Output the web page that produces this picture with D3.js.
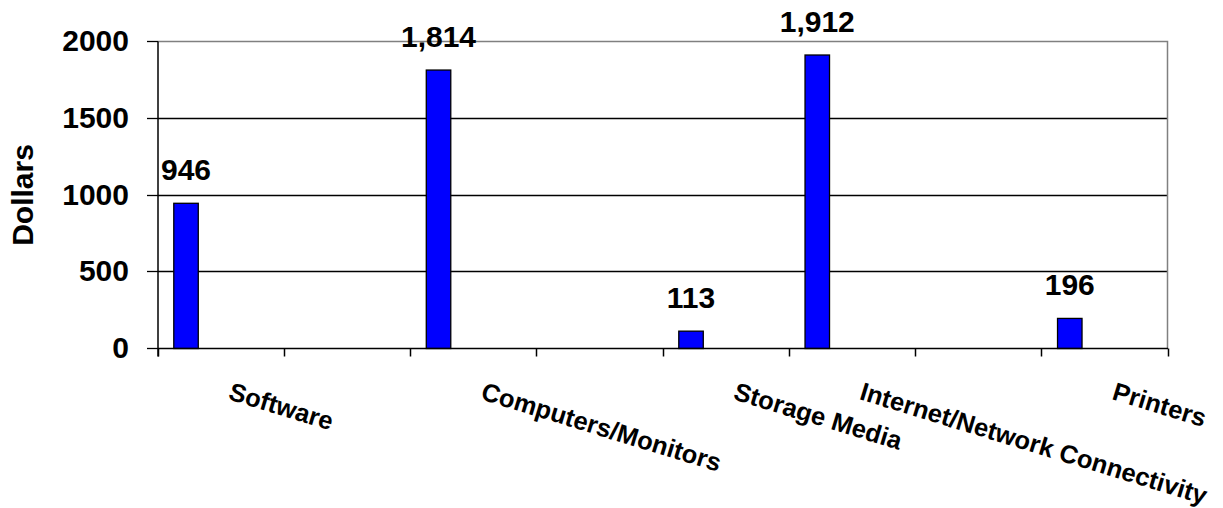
<!DOCTYPE html>
<html>
<head>
<meta charset="utf-8">
<script src="https://cdn.jsdelivr.net/npm/d3@7"></script>
<style>
  html, body { margin: 0; padding: 0; background: #fff; }
  svg { display: block; }
  text { font-family: Arial, "Liberation Sans", sans-serif; font-weight: bold; fill: #000; }
</style>
</head>
<body>
<svg id="chart" width="1223" height="508"></svg>
<script>
// ---- data ----
const categories = ["Software", "", "Computers/Monitors", "", "Storage Media", "Internet/Network Connectivity", "", "Printers"];
const values = [946, null, 1814, null, 113, 1912, null, 196];
const dataLabels = ["946", "", "1,814", "", "113", "1,912", "", "196"];
const yTicks = [0, 500, 1000, 1500, 2000];
const yTitle = "Dollars";

// ---- layout ----
const W = 1223, H = 508;
const plot = { left: 158, right: 1168, top: 41.5, bottom: 348.5 };

const svg = d3.select("#chart");
svg.append("rect").attr("width", W).attr("height", H).attr("fill", "#fff");

const keys = categories.map((c, i) => i);
const x = d3.scaleBand().domain(keys).range([plot.left, plot.right]).paddingInner(0).paddingOuter(0);
const y = d3.scaleLinear().domain([0, 2000]).range([plot.bottom, plot.top]);
const bw = x.bandwidth();
const crisp = v => Math.round(v - 0.5) + 0.5;

// gridlines
svg.append("g").selectAll("line").data(yTicks.filter(t => t > 0 && t < 2000)).join("line")
  .attr("x1", plot.left).attr("x2", plot.right)
  .attr("y1", d => crisp(y(d))).attr("y2", d => crisp(y(d)))
  .attr("stroke", "#000").attr("stroke-width", 1.3);

// plot border top & right (gray)
svg.append("path")
  .attr("d", `M${plot.left},${y(2000)}H${plot.right - 0.5}V${plot.bottom}`)
  .attr("fill", "none").attr("stroke", "#808080").attr("stroke-width", 1.5);

// bars
const barOffset = bw * 0.125, barWidth = bw * 0.194;
const barData = keys.filter(i => values[i] != null);
svg.append("g").selectAll("rect").data(barData).join("rect")
  .attr("x", i => x(i) + barOffset)
  .attr("width", barWidth)
  .attr("y", i => y(values[i]))
  .attr("height", i => y(0) - y(values[i]))
  .attr("fill", "#0000FF").attr("stroke", "#000").attr("stroke-width", 1.3);

// data labels
svg.append("g").selectAll("text").data(barData).join("text")
  .attr("x", i => x(i) + barOffset + barWidth / 2)
  .attr("y", i => y(values[i]) - 23)
  .attr("text-anchor", "middle")
  .style("font-size", "30px")
  .text(i => dataLabels[i]);

// y axis
const yAxis = d3.axisLeft(y).tickValues(yTicks).tickSize(11).tickPadding(18).tickFormat(d3.format("d"));
const gy = svg.append("g").attr("transform", `translate(${plot.left},0)`).call(yAxis);
gy.select(".domain").remove();
gy.selectAll(".tick").attr("transform", d => `translate(0,${crisp(y(d))})`);
gy.selectAll(".tick line").attr("stroke", "#000").attr("stroke-width", 1.3);
gy.selectAll(".tick text").style("font-size", "30px").style("font-family", "Arial, 'Liberation Sans', sans-serif").style("font-weight", "bold").attr("fill", "#000");
svg.append("line").attr("x1", plot.left).attr("x2", plot.left).attr("y1", y(2000)).attr("y2", plot.bottom + 8)
  .attr("stroke", "#000").attr("stroke-width", 1.5);

// x axis
svg.append("line").attr("x1", plot.left).attr("x2", plot.right).attr("y1", plot.bottom).attr("y2", plot.bottom)
  .attr("stroke", "#000").attr("stroke-width", 1.5);
const boundaries = keys.map(i => x(i)).concat([x.range()[1]]);
svg.append("g").selectAll("line").data(boundaries).join("line")
  .attr("x1", d => crisp(d)).attr("x2", d => crisp(d))
  .attr("y1", plot.bottom).attr("y2", plot.bottom + 8)
  .attr("stroke", "#000").attr("stroke-width", 1.5);

// category labels (rotated)
svg.append("g").selectAll("text").data(keys.filter(i => categories[i])).join("text")
  .attr("transform", i => `translate(${x(i) + bw / 2 + 6},399) rotate(17)`)
  .attr("text-anchor", "start")
  .style("font-size", "25.5px")
  .text(i => categories[i]);

// y title
svg.append("text")
  .attr("transform", `translate(33,${(plot.top + plot.bottom) / 2}) rotate(-90)`)
  .attr("text-anchor", "middle")
  .style("font-size", "30px")
  .text(yTitle);
</script>
</body>
</html>
